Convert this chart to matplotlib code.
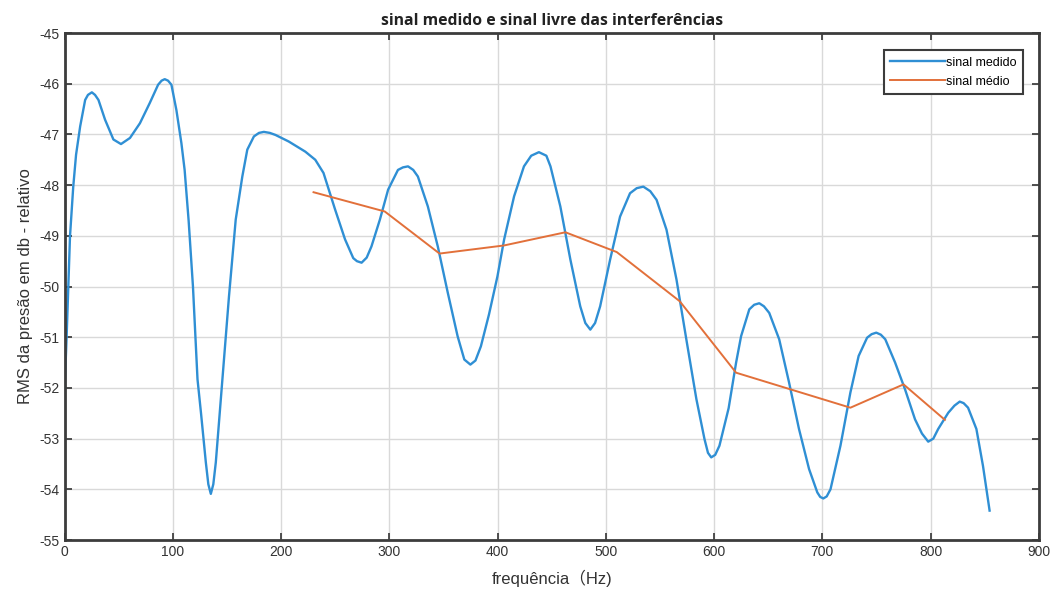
import numpy as np
import matplotlib.pyplot as plt

freq_medido = [0, 1.8, 4.9, 7.9, 10.5, 14.3, 18.9, 21.5, 25.1, 28, 31.2, 37.3, 45, 52, 60.3, 69.5,
               78.6, 86.3, 89.5, 92.4, 95.5, 98.6, 103.2, 107.8, 110.8, 114.5, 118.5, 122.7, 125.9,
               130.4, 132.7, 135, 137.3, 139.6, 143.3, 145.7, 148.8, 151.8, 158, 164.1, 168.7,
               174.8, 179.5, 184, 189.5, 194.7, 207, 222.3, 231.5, 239.1, 249.8, 259.0, 266.6,
               270, 274.3, 279, 283.4, 291.2, 298.8, 307.9, 312.5, 317.2, 322, 326.3, 335.5, 344.7,
               353.9, 363.0, 369.2, 374.8, 379.5, 384.5, 392, 399.8, 406.0, 415.2, 424.3, 431,
               438.1, 445, 448.8, 457.9, 467.2, 476.3, 481, 485.6, 490, 494.7, 503.9, 513.1,
               522.3, 528.5, 534.6, 541, 546.8, 556.0, 565.2, 574.3, 583.6, 591.1, 594.3, 597.3,
               601, 604.9, 613.4, 620.3, 624.9, 632.5, 637, 641.7, 646, 650.9, 660.1, 669.3,
               678.4, 687.7, 695.3, 698, 700.9, 704, 707.5, 716.7, 725.9, 733.5, 741.3, 745.5,
               749.8, 754, 758.1, 767.2, 776.4, 785.6, 792, 797.8, 802.5, 807.0, 816.3, 822,
               826.9, 830.5, 834.6, 842.3, 848.4, 854.5]
rms_medido = [-52.0, -50.98, -49.01, -48.03, -47.4, -46.84, -46.32, -46.22, -46.17, -46.22, -46.32,
              -46.71, -47.1, -47.19, -47.07, -46.78, -46.38, -46.02, -45.94, -45.91, -45.94,
              -46.02, -46.52, -47.17, -47.7, -48.7, -50.0, -51.83, -52.49, -53.47, -53.9, -54.09,
              -53.9, -53.47, -52.49, -51.83, -51.0, -50.19, -48.68, -47.83, -47.3, -47.04, -46.97,
              -46.95, -46.97, -47.01, -47.14, -47.34, -47.5, -47.76, -48.48, -49.07, -49.44,
              -49.5, -49.53, -49.43, -49.21, -48.68, -48.09, -47.7, -47.65, -47.63, -47.7,
              -47.83, -48.42, -49.21, -50.12, -50.98, -51.44, -51.54, -51.46, -51.18, -50.55,
              -49.8, -49.07, -48.22, -47.63, -47.42, -47.35, -47.42, -47.63, -48.42, -49.47,
              -50.39, -50.72, -50.85, -50.72, -50.39, -49.47, -48.62, -48.16, -48.06, -48.03,
              -48.12, -48.29, -48.88, -49.86, -51.04, -52.22, -53.01, -53.28, -53.37, -53.32,
              -53.14, -52.4, -51.5, -50.98, -50.45, -50.36, -50.33, -50.39, -50.52, -51.04,
              -51.9, -52.81, -53.6, -54.06, -54.15, -54.18, -54.14, -54.0, -53.14, -52.09,
              -51.37, -51.01, -50.94, -50.91, -50.95, -51.04, -51.5, -52.03, -52.62, -52.9,
              -53.06, -53.0, -52.81, -52.49, -52.35, -52.27, -52.3, -52.39, -52.81, -53.54,
              -54.42]

# mean signal
freq_medio = [229.9, 295.7, 346.3, 405.9, 462.6, 510.0, 568.2, 620.3, 725.9, 775.0, 813.2]
rms_medio = [-48.14, -48.52, -49.35, -49.19, -48.93, -49.32, -50.29, -51.7, -52.39, -51.93, -52.63]

xticks = np.arange(0, 901, 100)
yticks = np.arange(-55, -44, 1)

plt.rcParams['font.family'] = ['Liberation Sans Narrow', 'Liberation Sans', 'Noto Sans CJK SC', 'DejaVu Sans']
plt.rcParams['axes.unicode_minus'] = False

fig = plt.figure(figsize=(10.52, 5.95), dpi=100)
ax = fig.add_axes([0.0615, 0.0924, 0.926, 0.8521])

ax.plot(freq_medido, rms_medido, color='#2f8fd4', linewidth=1.7, label='sinal medido',
        solid_joinstyle='round')
ax.plot(freq_medio, rms_medio, color='#e2703a', linewidth=1.4, label='sinal médio')

ax.set_xlim(0, 900)
ax.set_ylim(-55, -45)
ax.set_xticks(xticks)
ax.set_yticks(yticks)
ax.grid(True, color='#d9d9d9', linewidth=1.0)
ax.set_axisbelow(True)
ax.tick_params(direction='in', length=5, width=1.2, top=True, right=True,
               labelsize=10, colors='#333333', labelcolor='#333333')
for s in ax.spines.values():
    s.set_color('#3c3c3c')
    s.set_linewidth(2.0)

ax.set_xlabel('frequência（Hz)', fontsize=12, color='#333333', labelpad=8)
ax.set_ylabel('RMS da presão em db - relativo', fontsize=12, color='#333333', labelpad=5)
ax.set_title('sinal medido e sinal livre das interferências', fontsize=11.3, fontweight='bold',
             family=['Open Sans', 'DejaVu Sans'], color='#222222', pad=6)

leg = ax.legend(loc='upper right', bbox_to_anchor=(0.99, 0.978), fontsize=9, handlelength=4.4,
                handletextpad=0.1, borderpad=0.5, labelspacing=0.55, fancybox=False, framealpha=1)
leg.get_frame().set_edgecolor('#3c3c3c')
leg.get_frame().set_linewidth(1.5)

plt.savefig('out.png', dpi=100)
